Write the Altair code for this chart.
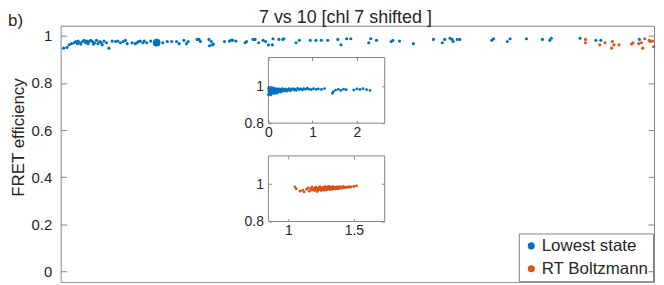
import altair as alt
import pandas as pd

# ---------------- data ----------------
series_names = ["Lowest state", "RT Boltzmann"]
series_colors = ["#0072BD", "#D95319"]

main_blue_x = [1.5, 3.2, 4.3, 5.5, 6.9, 7.7, 8.5, 8.9, 9.7, 10.2,
               11.1, 11.9, 12.7, 13.2, 13.9, 14.4, 15.2, 16.1, 16.6, 17.2,
               18.2, 18.9, 19.9, 20.6, 21.1, 22.0, 23.3, 24.5, 26.1, 27.8,
               29.0, 30.3, 31.7, 32.8, 33.7, 36.2, 37.8, 38.7, 39.5, 40.4,
               41.7, 42.4, 43.7, 45.7, 51.8, 54.1, 56.3,
               58.8, 60.1, 62.5, 63.8, 64.7, 69.2, 70.2, 70.9, 75.2, 75.5,
               76.4, 76.9, 77.5, 83.1, 85.6, 86.4, 87.3, 88.9, 93.6, 94.3,
               97.6, 98.6, 100.4, 102.7, 104.0, 105.4, 107.4, 107.7, 110.7, 112.7,
               113.2, 119.4,
               121.1, 126.6, 129.5, 132.2, 135.5, 140.6, 142.2, 145.1, 147.2, 156.3,
               157.3, 160.2, 167.7, 168.5, 171.9, 178.9,
               189.1, 193.6, 194.8, 197.5, 198.6, 199.1, 201.2, 202.5, 218.7, 219.6,
               226.6, 228.0, 236.3,
               244.4, 248.1, 248.9, 263.5, 271.5, 274.0, 293.6]
main_blue_y = [0.948, 0.951, 0.962, 0.967, 0.971, 0.976, 0.967, 0.978, 0.971, 0.965,
               0.976, 0.981, 0.971, 0.978, 0.967, 0.976, 0.981, 0.976, 0.965, 0.971,
               0.981, 0.967, 0.976, 0.971, 0.962, 0.978, 0.971, 0.948, 0.978, 0.976,
               0.978, 0.971, 0.976, 0.981, 0.967, 0.971, 0.967, 0.971, 0.976, 0.978,
               0.971, 0.978, 0.971, 0.978, 0.971, 0.976, 0.976,
               0.976, 0.967, 0.981, 0.967, 0.976, 0.985, 0.985, 0.976, 0.985, 0.958,
               0.976, 0.962, 0.965, 0.976, 0.978, 0.981, 0.981, 0.978, 0.971, 0.976,
               0.985, 0.985, 0.971, 0.981, 0.976, 0.962, 0.962, 0.988, 0.985, 0.985,
               0.988, 0.971,
               0.981, 0.981, 0.981, 0.981, 0.981, 0.985, 0.962, 0.988, 0.988, 0.971,
               0.988, 0.981, 0.976, 0.981, 0.978, 0.967,
               0.985, 0.971, 0.985, 0.990, 0.985, 0.976, 0.985, 0.985, 0.981, 0.988,
               0.976, 0.988, 0.988,
               0.985, 0.981, 0.990, 0.990, 0.981, 0.981, 0.985]
main_big_x = [48.7]
main_big_y = [0.971]
main_orange_x = [266.2, 266.2, 273.5, 276.2, 279.9, 279.5, 280.7, 283.2, 289.6, 290.3,
                 293.3, 294.6, 295.3, 296.3, 298.6, 299.1, 300.3, 300.8]
main_orange_y = [0.985, 0.971, 0.962, 0.971, 0.976, 0.948, 0.962, 0.962, 0.965, 0.971,
                 0.967, 0.971, 0.948, 0.988, 0.981, 0.976, 0.978, 0.954]

inset1_x = [0.00, 0.01, 0.01, 0.02, 0.02, 0.02, 0.03, 0.03, 0.03, 0.04,
            0.04, 0.05, 0.05, 0.05, 0.06, 0.06, 0.07, 0.07, 0.08, 0.08,
            0.08, 0.09, 0.09, 0.10, 0.10, 0.11, 0.11, 0.12, 0.12, 0.13,
            0.13, 0.14, 0.14, 0.15, 0.15, 0.16, 0.17, 0.17, 0.18, 0.19,
            0.19, 0.20, 0.21, 0.22, 0.22, 0.23, 0.24, 0.25, 0.26, 0.27,
            0.28, 0.29, 0.30, 0.31, 0.33, 0.34, 0.36, 0.37, 0.39, 0.41,
            0.43, 0.45, 0.47, 0.50, 0.52, 0.55, 0.58, 0.60, 0.63, 0.66,
            0.70, 0.73, 0.77, 0.80, 0.84, 0.88, 0.92, 0.97, 1.02, 1.08,
            1.13, 1.20, 1.27, 1.45, 1.47, 1.52, 1.58, 1.64, 1.70, 1.76,
            1.93, 2.00, 2.07, 2.14, 2.22, 2.30]
inset1_y = [0.955, 0.975, 0.990, 0.962, 0.983, 0.995, 0.958, 0.970, 0.988, 0.965,
            0.980, 0.953, 0.972, 0.992, 0.968, 0.985, 0.960, 0.978, 0.966, 0.982,
            0.993, 0.971, 0.987, 0.963, 0.979, 0.974, 0.990, 0.968, 0.984, 0.976,
            0.961, 0.981, 0.970, 0.988, 0.966, 0.977, 0.983, 0.969, 0.975, 0.986,
            0.964, 0.980, 0.972, 0.984, 0.968, 0.978, 0.986, 0.973, 0.981, 0.976,
            0.969, 0.984, 0.978, 0.988, 0.974, 0.982, 0.977, 0.986, 0.980, 0.974,
            0.984, 0.979, 0.987, 0.976, 0.983, 0.988, 0.980, 0.985, 0.978, 0.989,
            0.983, 0.986, 0.981, 0.988, 0.984, 0.990, 0.985, 0.982, 0.987, 0.984,
            0.986, 0.983, 0.988, 0.962, 0.972, 0.980, 0.984, 0.978, 0.985, 0.982,
            0.980, 0.986, 0.983, 0.987, 0.982, 0.978]

inset2_x = [1.05, 1.06, 1.09, 1.11, 1.12, 1.14, 1.15, 1.16, 1.17, 1.18,
            1.18, 1.19, 1.20, 1.20, 1.21, 1.21, 1.22, 1.22, 1.23, 1.23,
            1.24, 1.24, 1.25, 1.25, 1.25, 1.26, 1.26, 1.27, 1.27, 1.27,
            1.28, 1.28, 1.28, 1.29, 1.29, 1.29, 1.30, 1.30, 1.30, 1.31,
            1.31, 1.31, 1.32, 1.32, 1.32, 1.33, 1.33, 1.34, 1.34, 1.34,
            1.35, 1.35, 1.36, 1.36, 1.37, 1.37, 1.38, 1.38, 1.39, 1.39,
            1.40, 1.40, 1.41, 1.42, 1.42, 1.43, 1.44, 1.45, 1.46, 1.47,
            1.48, 1.50, 1.52]
inset2_y = [0.985, 0.975, 0.962, 0.968, 0.958, 0.972, 0.980, 0.962, 0.975, 0.968,
            0.985, 0.972, 0.965, 0.978, 0.970, 0.983, 0.960, 0.975, 0.968, 0.980,
            0.972, 0.986, 0.965, 0.976, 0.982, 0.970, 0.978, 0.967, 0.975, 0.984,
            0.972, 0.979, 0.986, 0.968, 0.976, 0.983, 0.971, 0.978, 0.985, 0.974,
            0.980, 0.987, 0.970, 0.977, 0.984, 0.975, 0.982, 0.972, 0.979, 0.986,
            0.976, 0.983, 0.974, 0.981, 0.977, 0.985, 0.975, 0.982, 0.978, 0.986,
            0.980, 0.984, 0.978, 0.982, 0.987, 0.980, 0.984, 0.982, 0.986, 0.983,
            0.985, 0.987, 0.990]

main_y_ticks = [0, 0.2, 0.4, 0.6, 0.8, 1]
inset1_x_ticks = [0, 1, 2]
inset1_y_ticks = [0.8, 1]
inset2_x_ticks = [1, 1.5]
inset2_y_ticks = [0.8, 1]

main_x_domain = [0, 301]
main_y_domain = [-0.045, 1.043]
inset1_x_domain = [0, 2.63]
inset1_y_domain = [0.8, 1.157]
inset2_x_domain = [0.848, 1.735]
inset2_y_domain = [0.8, 1.15]

chart_title = "7 vs 10 [chl 7 shifted ]"
panel_label = "b)"
y_title = "FRET efficiency"

# ---------------- layout / style ----------------
W, H = 597, 258
LEFT, TOP = 61, 25          # page position of the plot origin
inset_x_px = [270 - LEFT, 387 - LEFT]
inset1_y_px = [123 - TOP, 57 - TOP]
inset2_y_px = [222 - TOP, 156 - TOP]

GRAY = "#858585"
TXT = "#262626"
FONT = "Liberation Sans"


def tick_axis(orient, offset, values, size):
    return alt.Axis(orient=orient, offset=offset, values=values, labels=False,
                    domain=False, grid=False, ticks=True, tickSize=size,
                    tickColor=GRAY, tickWidth=1, title="", zindex=1)


xs = alt.Scale(domain=main_x_domain, nice=False, zero=False)
ys = alt.Scale(domain=main_y_domain, nice=False, zero=False)
cs = alt.Scale(domain=series_names, range=series_colors)
color_enc = alt.Color("series:N", scale=cs, legend=alt.Legend(title=None))

df_blue = pd.DataFrame({"x": main_blue_x, "y": main_blue_y, "series": series_names[0]})
df_big = pd.DataFrame({"x": main_big_x, "y": main_big_y, "series": series_names[0]})
df_orange = pd.DataFrame({"x": main_orange_x, "y": main_orange_y, "series": series_names[1]})

blue = alt.Chart(df_blue).mark_circle(size=10, opacity=1).encode(
    x=alt.X("x:Q", scale=xs, axis=None),
    y=alt.Y("y:Q", scale=ys, axis=alt.Axis(
        orient="left", values=main_y_ticks, format="~g", ticks=False, domain=False,
        grid=False, labelFontSize=15, labelColor=TXT, labelPadding=9,
        title=y_title, titleFontSize=17, titleFontWeight="normal", titleColor=TXT,
        titlePadding=4, titleY=137 - TOP)),
    color=color_enc,
)
orange = alt.Chart(df_orange).mark_circle(size=10, opacity=1).encode(
    x=alt.X("x:Q", scale=xs, axis=None),
    y=alt.Y("y:Q", scale=ys, axis=tick_axis("right", -W, main_y_ticks, 6)),
    color=color_enc,
)
big = alt.Chart(df_big).mark_circle(size=60, opacity=1).encode(
    x=alt.X("x:Q", scale=xs, axis=None),
    y=alt.Y("y:Q", scale=ys, axis=tick_axis("left", -W, main_y_ticks, 6)),
    color=color_enc,
)
texts = pd.DataFrame({"t": [panel_label, chart_title]})
label = alt.Chart(texts).transform_filter(alt.datum.t == panel_label).mark_text(
    align="left", baseline="middle", fontSize=17, font=FONT, color=TXT
).encode(x=alt.value(-53), y=alt.value(-5), text="t:N")
title = alt.Chart(texts).transform_filter(alt.datum.t == chart_title).mark_text(
    align="center", baseline="alphabetic", fontSize=18, font=FONT, color=TXT
).encode(x=alt.value(W / 2 - 12), y=alt.value(-3), text="t:N")

main = alt.layer(blue, orange, big, label, title).resolve_axis(y="independent")


def inset(xv, yv, xdom, ydom, xticks, yticks, xpx, ypx, color):
    pts = pd.DataFrame({"x": xv, "y": yv})
    frame = pd.DataFrame({"x": [xdom[0]], "x2": [xdom[1]], "y": [ydom[0]], "y2": [ydom[1]]})
    sx = alt.Scale(domain=xdom, range=xpx, nice=False, zero=False)
    sy = alt.Scale(domain=ydom, range=ypx, nice=False, zero=False)
    lab_x = alt.Axis(orient="bottom", offset=ypx[0] - H, values=xticks, format="~g",
                     ticks=False, domain=False, grid=False, labelFontSize=14,
                     labelColor=TXT, labelPadding=2, labelFlush=False, title="")
    lab_y = alt.Axis(orient="left", offset=-xpx[0], values=yticks, format="~g",
                     ticks=False, domain=False, grid=False, labelFontSize=14,
                     labelColor=TXT, labelPadding=5, title="")
    box = alt.Chart(frame).mark_rect(filled=False, stroke=GRAY, strokeWidth=1).encode(
        x=alt.X("x:Q", scale=sx, axis=lab_x), x2="x2:Q",
        y=alt.Y("y:Q", scale=sy, axis=lab_y), y2="y2:Q")
    dots = alt.Chart(pts).mark_circle(size=8, opacity=1, color=color).encode(
        x=alt.X("x:Q", scale=sx, axis=tick_axis("top", -ypx[0], xticks, 3)),
        y=alt.Y("y:Q", scale=sy, axis=tick_axis("right", xpx[0] - W, yticks, 3)))
    box2 = alt.Chart(frame).mark_rect(filled=False, stroke=GRAY, strokeOpacity=0).encode(
        x=alt.X("x:Q", scale=sx, axis=tick_axis("bottom", ypx[1] - H, xticks, 3)), x2="x2:Q",
        y=alt.Y("y:Q", scale=sy, axis=tick_axis("left", -xpx[1], yticks, 3)), y2="y2:Q")
    return alt.layer(box, dots, box2).resolve_axis(x="independent", y="independent")


inset1 = inset(inset1_x, inset1_y, inset1_x_domain, inset1_y_domain,
               inset1_x_ticks, inset1_y_ticks, inset_x_px, inset1_y_px, series_colors[0])
inset2 = inset(inset2_x, inset2_y, inset2_x_domain, inset2_y_domain,
               inset2_x_ticks, inset2_y_ticks, inset_x_px, inset2_y_px, series_colors[1])

chart = alt.layer(main, inset1, inset2).resolve_scale(
    x="independent", y="independent"
).properties(
    width=W, height=H,
    padding={"left": 0, "top": 0, "right": 0, "bottom": 0},
).configure_view(
    stroke=GRAY, strokeWidth=1
).configure_axis(
    labelFont=FONT, titleFont=FONT
).configure_legend(
    orient="bottom-right", offset=1, fillColor="white", strokeColor=GRAY,
    strokeWidth=1, padding=4, cornerRadius=0, labelFont=FONT, labelFontSize=17,
    labelColor=TXT, symbolSize=50, symbolType="circle", rowPadding=5,
    labelOffset=2, symbolOffset=0, symbolStrokeWidth=0, labelLimit=300,
)

chart.save("out.html", embed_options={"renderer": "svg", "actions": False})
